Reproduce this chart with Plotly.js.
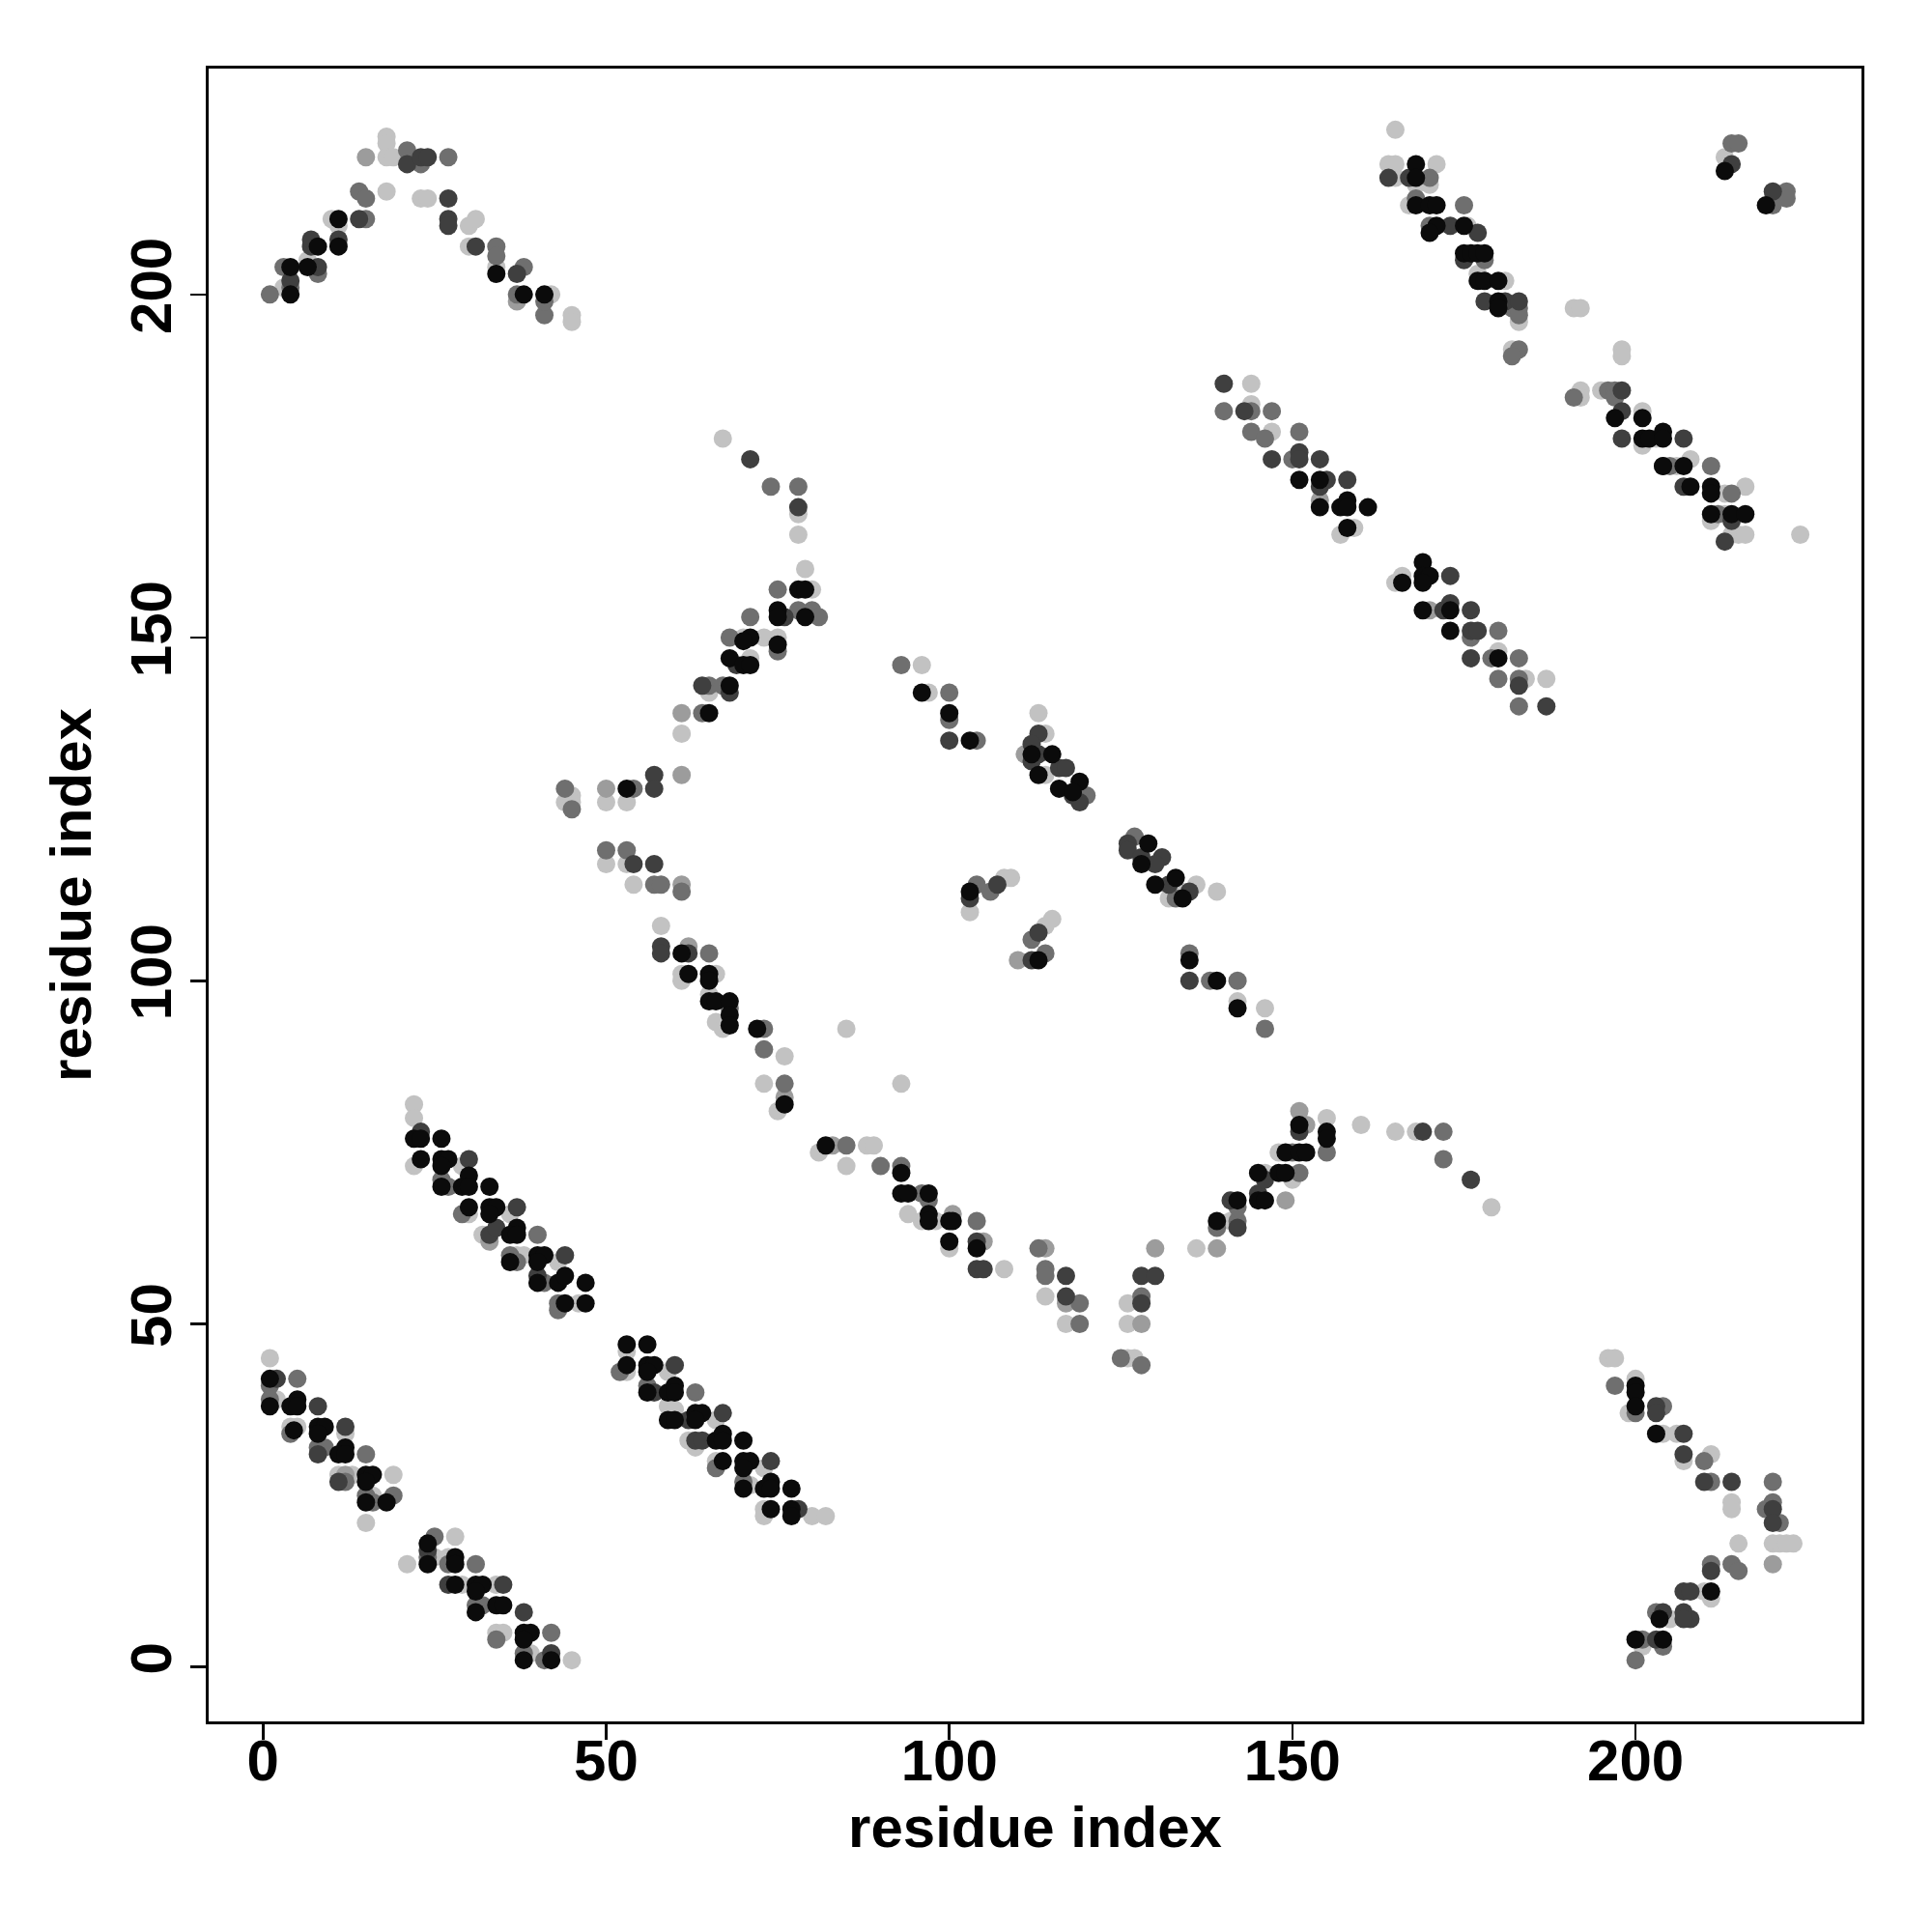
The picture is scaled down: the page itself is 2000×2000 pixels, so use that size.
<!DOCTYPE html>
<html>
<head>
<meta charset="utf-8">
<script src="https://cdn.plot.ly/plotly-3.0.1.min.js"></script>
<style>html,body{margin:0;padding:0;background:#fff;}#chart{width:2000px;height:2000px;}</style>
</head>
<body>
<div id="chart"></div>
<script>
// contact points (residue i, residue j) grouped by grey level
const shadeNames = ["level4", "level3", "level2", "level1", "level0"];
const shadeColors = ["#c2c2c2", "#9c9c9c", "#6f6f6f", "#3f3f3f", "#0b0b0b"];

const level0 = [[4,200],[4,204],[6.5,204],[8,207],[11,207],[11,211],[34,203],[38,200],[41,200],
[22,77],[23,77],[26,77],[23,74],[26,74],[27,74],[26,73],[26,70],[30,71.6],[29,70],[30,70],[33,70],[30,67],[33,67],[34,67],[33,66],[37,64],[36,63],[37,63],[36,59],[40,60],[41,60],[40,59],[40,56],[43,56],[44,57],[47,56],[44,53],[47,53],
[1,42],[1,38],[5,39],[4,38],[5,38],[4.5,34.5],[8,35],[9,35],[8,34],[12,32],[11,31],[12,31],[15,28],[16,28],[15,27],[15,24],[18,24],[24,18],[24,15],[28,16],[28,15],[28,12],[31,12],[32,12],[31,11],[31,8],[34,9],[35,9],[38,5],[39,5],[38,4],[38,1],[42,1],
[53,47],[56,47],[53,44],[56,44],[57,44],[56,43],[56,40],[59,40],[60,41],[60,40],[59,36],[60,36],[63,37],[64,37],[63,36],[66,33],[67,34],[67,33],[70,33],[67,30],[70,30],[71,30],[70,29],[70,26],[73,26],[74,27],[74,26],[77,26],[74,23],[77,23],[77,22],
[53,128],[61,104],[62,101],[65,101],[65,100],[65,97],[66,97],[68,97],[68,95],[68,93.5],[72,93],[76,82],[82,76],
[78,157],[79,157],[79,153],[75,154],[75,153],[71,150],[70,149.5],[75,149],[68,147],[70,146],[71,146],[68,143],[65,139],
[93,72],[93,69],[94,69],[97,69],[97,66],[97,65],[100,65],[100.5,65],[100,62],[104,61],
[96,142],[100,139],[103,135],[112,133],[115,133],[113,130],[116,128],[119,129],[118,127.5],[103,113],[113,103],[129,120],[128,117],[133,115],[130,114],[134,112],[135,103],[139,100],[142,96],
[139,65],[142,68],[145,68],[146,68],[145,72],[148,72],[149,72],[149,75],[151,75],[152,75],[151,79],[155,78],[155,77],
[151,173],[154,173],[154,169],[157,169],[158,170],[158,169],[161,169],[158,166],[169,161],[166,158],[169,159],[170,159],[169,158],[169,154],[173,154],[173,151],[180,147],
[168,219],[168,217],[168,213],[170,213],[171,213],[171,210],[170,209],[175,210],[175,206],[176,206],[177,206],[178,206],[177,202],[178,202],[180,202],[180,199],[180,198],[197,182],[201,182],[201,179],[202,179],[204,180],[204,179],[204,175],[207,175],[208,172],[211,172],[211,171],[211,168],[214,168],[216,168],[213,218],[219,213],
[200,41],[200,40],[200,38],[203,34],[211,11],[203.5,7],[200,4],[204,4]];

const level1 = [[4,202],[7,207],[7,208],[8,204],[11,208],[14,211],[21,219],[23,220],[24,220],[27,214],[27,211],[27,210],[31,207],[37,203],
[23,78],[30,74],[37,67],[33,63],[34,64],[40,57],[44,60],
[2,42],[8,38],[12,35],[8,31],[11,27],[24,17],[27,12],[35,12],[38,8],[42,2],
[60,44],[57,40],[62,36],[67,37],[63,33],[64,33],[74,30],[78,23],
[57,130],[57,128],[54,117],[57,117],[58,105],[58,104],[62,104],
[71,176],[78,169],[76,153],[69,146],[64,143],[68,142],
[104,62],[104,58],[105,58],[117,57],[117,54],
[100,135],[113,136],[112,134.5],[113,133],[112,132],[116,131],[117,131],[118,127],[119,126],[103,112],[107,114],[113,107],[112,103],[126,120],[126,119],[128,118],[131,118],[130,117],[132,114],[135,113],[135,100],
[128,53],[128,57],[130,57],[142,64],[141,68],[145,69],[146,71],[151,78],[169,78],[176,71],
[140,187],[143,183],[147,176],[151,177],[151,176],[154,176],[155,173],[158,173],[154,172],[173,159],[173,155],[172,154],[176,154],[176,151],[177,151],[176,147],[183,143],[187,140],
[164,217],[167,217],[173,210],[177,209],[175,205],[178,199],[181,199],[183,199],[198,186],[198,183],[198,179],[207,179],[204,175],[207,172],[214,167],[213,164],[214,219],[220,215],
[203,38],[203,37],[207,34],[207,31],[210,27],[214,27],[220,23],[220,21],[211,14],[207,11],[208,11],[204,8],[207,8],[208,7],[207,7],[203,4]];

const level2 = [[1,200],[4,201],[3,204],[8,203],[15,211],[14,215],[15,214],[21,221],[23,219],[27,220],[34,207],[34,205.6],[38,204],[37,200],[41,197],[41,199],
[26,71],[27,70],[29,66],[40,63],[36,60],[37,59],[41,56],[43,53],[43,52],
[5,42],[1,41],[1,39],[4,34],[8,32],[9,32],[15,31],[12,27],[15,25],[16,24],[19,25],[25,19],[24,16],[27,15],[31,15],[31,9],[32,9],[34,4],[42,5],[38,2],[41,1],
[52,43],[56,41],[63,40],[66,29],[70,27],
[44,128],[45,125],[54,128],[50,119],[53,119],[57,114],[58,114],[61,113],[65,104],[68,96],[73,93],[73,90],[76,85],[85,76],
[74,172],[78,172],[75,157],[78,154],[80,154],[81,153],[71,153],[75,148],[68,150],[65,143],[67,143],[64,139],
[90,73],[93,73],[96,69],[97,68],[104,65],[113,61],[114,58],[114,57],[119,53],[119,50],
[93,146],[100,142],[100,138],[104,135],[120,127],[104,114],[106,113],[112,106],[114,104],[127,121],[133,112],[135,104],[138,100],[142,100],[146,93],
[125,45],[128,44],[128,54],[139,64],[142,65],[142,67],[151,72],[150,75],[155,75],[172,78],[172,74],
[140,183],[144,183],[147,183],[144,180],[146,179],[151,180],[150,176],[176,150],[180,151],[179,147],[183,147],[180,144],[183,144],[183,140],
[170,217],[168,214],[175,213],[170,210],[178,205],[182,198],[183,198],[183,197],[183,192],[182,191],[191,185],[196,186],[197,186],[197,185],[205,175],[211,175],[212,168],[214,171],[214,222],[215,222],[222,215],[222,214],[220,213],
[197,41],[200,37],[204,38],[210,30],[211,27],[220,27],[220,24],[219,23],[221,21],[214,15],[215,14],[211,15],[203,8],[201,4],[204,3],[200,1]];

const level3 = [[15,220],[37,199],[33,62],[12,28],[50,128],[61,130],[61,114],[62,105],[76,83],[83,76],[61,139],
[100.5,66],[105,62],[114,61],[117,53],[111,133],[110,103],
[128,50],[130,61],[139,61],[149,68],[151,81],[152,79],[154,170],[170,154],[220,15]];

const level4 = [[3,201],[6.5,205],[11,210],[10,211],[18,215],[18,223],[18,222],[18,220],[19,220],[23,214],[24,214],[30,210],[31,211],[30,207],[34,204],[42,200],[45,197],[45,196],
[22,82],[22,80],[22,73],[29,73],[30,66],[36,66],[32,63],[37,60],[38,60],[43,59],[46,53],
[1,45],[2,39],[4,35],[5,35],[12,34],[11,28],[13,28],[19,28],[16,25],[15,21],[21,15],[28,19],[25,16],[27,16],[29,12],[34,12],[34,5],[35,5],[39,2],[45,1],
[53,46],[53,43],[59,43],[59,38],[60,37.5],[66,36],[62,33],[63,32],[66,30],[73,29],[71,26.5],[73,23],[73,22],[80,22],[82,22],
[45,127],[44,126],[45,126],[50,126],[53,126],[50,117],[53,117],[54,114],[58,108],[61,101],[61,100],[66,101],[65,98],[66,94],[67,93],[76,89],[73,85],[75,81],[85,93],[81,75],[85,73],[88,76],[93,85],
[67,179],[78,168],[78,165],[79,160],[80,157],[70,150],[75,150],[73,150],[71,147],[65,142],[61,136],
[89,76],[94,66],[96,65],[98,65],[100,61],[108,58],[114,54],[117,50],
[96,146],[97,142],[113,139],[114,136],[114,130],[103,110],[108,115],[109,115],[114,108],[115,109],[136,114],[134,113],[132,112],[139,113],[142,97],[146,96],
[126,45],[127,45],[126,50],[126,53],[136,61],[141,65],[146,72],[150,71],[148,75],[155,80],[160,79],[165,78],[168,78],[179,67],
[144,187],[144,184],[147,180],[159,166],[157,165],[166,159],[165,158],[180,148],[184,144],[187,144],
[165,224],[164,219],[165,219],[165,217],[168,216],[171,219],[170,216],[167,213],[175.5,210],[177,203],[181,202],[183,196],[191,198],[192,198],[182,192],[198,192],[198,191],[192,186],[192,185],[195,186],[201,183],[201,178],[203,179],[206,175],[208,176],[213,171],[216,172],[211,167],[213,168],[214,165],[215,165],[216,165],[224,165],[213,220],[220,214],
[196,45],[197,45],[200,42],[199,37],[204,34],[206,34],[207,30],[211,31],[214,24],[214,23],[220,18],[221,18],[222,18],[223,18],[215,18],[210,11],[211,10],[205,7],[201,3]];

const xTicks = [0, 50, 100, 150, 200];
const yTicks = [0, 50, 100, 150, 200];
const axisLabel = "residue index";

const groups = [level4, level3, level2, level1, level0];
const traces = groups.map((pts, k) => ({
  type: "scatter",
  mode: "markers",
  name: shadeNames[k],
  x: pts.map(p => p[0]),
  y: pts.map(p => p[1]),
  marker: {color: shadeColors[k], size: 19, line: {width: 0}},
  hoverinfo: "x+y"
}));

const font = {family: "Liberation Sans, Arial, sans-serif", size: 60, color: "#000", weight: "bold"};
const axisCommon = {
  range: [-7.92, 232.92],
  showgrid: false,
  zeroline: false,
  showline: true,
  mirror: true,
  linecolor: "#000",
  linewidth: 2.6,
  ticks: "outside",
  ticklen: 16,
  tickwidth: 2.6,
  tickcolor: "#000",
  tickfont: font,
  automargin: false
};

const layout = {
  width: 2000,
  height: 2000,
  margin: {l: 216, r: 73, t: 71, b: 218},
  paper_bgcolor: "#fff",
  plot_bgcolor: "#fff",
  showlegend: false,
  xaxis: Object.assign({}, axisCommon, {
    tickvals: xTicks, ticktext: xTicks.map(String),
    ticklabelstandoff: -30,
    title: {text: axisLabel, font: font, standoff: 16}
  }),
  yaxis: Object.assign({}, axisCommon, {
    tickvals: yTicks, ticktext: yTicks.map(String), tickangle: -90,
    ticklabelstandoff: -4,
    title: {text: axisLabel, font: font, standoff: 10}
  })
};

Plotly.newPlot("chart", traces, layout, {staticPlot: true});
</script>
</body>
</html>
